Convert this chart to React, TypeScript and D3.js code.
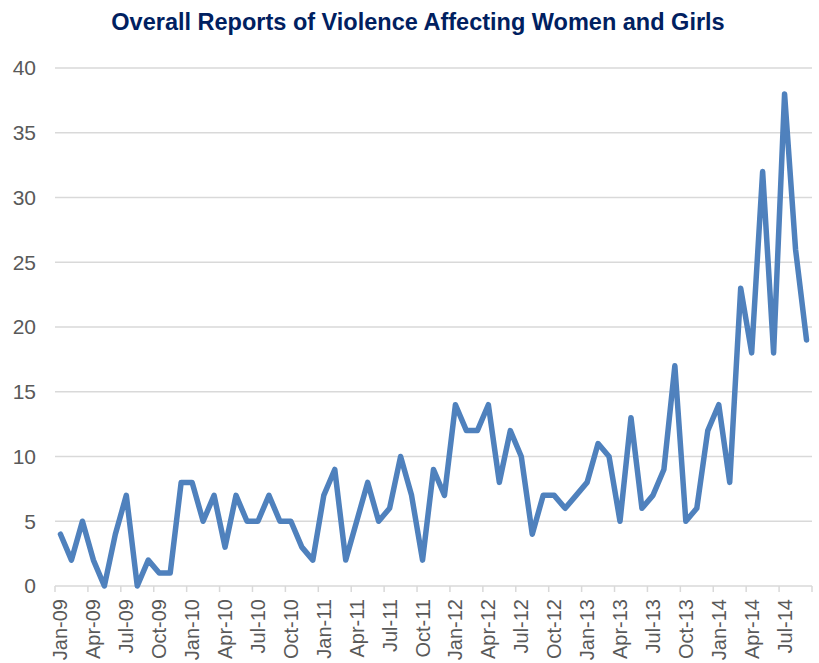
import * as d3 from "d3";

const months = [
  "Jan-09", "Feb-09", "Mar-09", "Apr-09", "May-09", "Jun-09", "Jul-09", "Aug-09", "Sep-09", "Oct-09", "Nov-09", "Dec-09",
  "Jan-10", "Feb-10", "Mar-10", "Apr-10", "May-10", "Jun-10", "Jul-10", "Aug-10", "Sep-10", "Oct-10", "Nov-10", "Dec-10",
  "Jan-11", "Feb-11", "Mar-11", "Apr-11", "May-11", "Jun-11", "Jul-11", "Aug-11", "Sep-11", "Oct-11", "Nov-11", "Dec-11",
  "Jan-12", "Feb-12", "Mar-12", "Apr-12", "May-12", "Jun-12", "Jul-12", "Aug-12", "Sep-12", "Oct-12", "Nov-12", "Dec-12",
  "Jan-13", "Feb-13", "Mar-13", "Apr-13", "May-13", "Jun-13", "Jul-13", "Aug-13", "Sep-13", "Oct-13", "Nov-13", "Dec-13",
  "Jan-14", "Feb-14", "Mar-14", "Apr-14", "May-14", "Jun-14", "Jul-14", "Aug-14", "Sep-14",
];

const reports = [
  4, 2, 5, 2, 0, 4, 7, 0, 2, 1, 1, 8,
  8, 5, 7, 3, 7, 5, 5, 7, 5, 5, 3, 2,
  7, 9, 2, 5, 8, 5, 6, 10, 7, 2, 9, 7,
  14, 12, 12, 14, 8, 12, 10, 4, 7, 7, 6, 7,
  8, 11, 10, 5, 13, 6, 7, 9, 17, 5, 6, 12,
  14, 8, 23, 18, 32, 18, 38, 26, 19,
];

const yTicks = [0, 5, 10, 15, 20, 25, 30, 35, 40];

const width = 819, height = 663;
const margin = { top: 68, right: 7, bottom: 77, left: 55 };

const App = () => {
  const x = d3.scaleBand<string>()
    .domain(months)
    .range([margin.left, width - margin.right])
    .paddingInner(0)
    .paddingOuter(0);

  const y = d3.scaleLinear()
    .domain([0, 40])
    .range([height - margin.bottom, margin.top]);

  const bw = x.bandwidth();

  const line = d3.line<number>()
    .x((_, i) => (x(months[i]) as number) + bw / 2)
    .y(d => y(d));

  // labels every third month (Jan, Apr, Jul, Oct)
  const shown = months.filter((_, i) => i % 3 === 0);

  return (
    <svg width={width} height={height} style={{ position: "absolute", left: 0, top: 0, background: "#fff" }}
      fontFamily="'Liberation Sans', Arial, sans-serif">
      <text x={418} y={30} textAnchor="middle" fontSize={23.5} fontWeight="bold" fill="#002060">
        Overall Reports of Violence Affecting Women and Girls
      </text>

      {yTicks.map(t => (
        <g key={t}>
          <line x1={margin.left} x2={width - margin.right} y1={y(t)} y2={y(t)} stroke="#d9d9d9" strokeWidth={1.5} />
          <text x={36} y={y(t)} dy="0.35em" textAnchor="end" fontSize={21} fill="#595959">{t}</text>
        </g>
      ))}

      {shown.map(m => (
        <line key={"t" + m} x1={x(m)} x2={x(m)} y1={y(0)} y2={y(0) + 6} stroke="#d9d9d9" strokeWidth={1.5} />
      ))}
      <line x1={width - margin.right} x2={width - margin.right} y1={y(0)} y2={y(0) + 6} stroke="#d9d9d9" strokeWidth={1.5} />

      {shown.map(m => {
        const cx = (x(m) as number) + bw / 2;
        const cy = y(0) + 13;
        return (
          <text key={m} transform={`translate(${cx},${cy}) rotate(-90)`} dy="0.35em" textAnchor="end"
            fontSize={20} fill="#595959">{m}</text>
        );
      })}

      <path d={line(reports) ?? ""} fill="none" stroke="#4f81bd" strokeWidth={5.5}
        strokeLinejoin="round" strokeLinecap="round" />
    </svg>
  );
};

export default App;
